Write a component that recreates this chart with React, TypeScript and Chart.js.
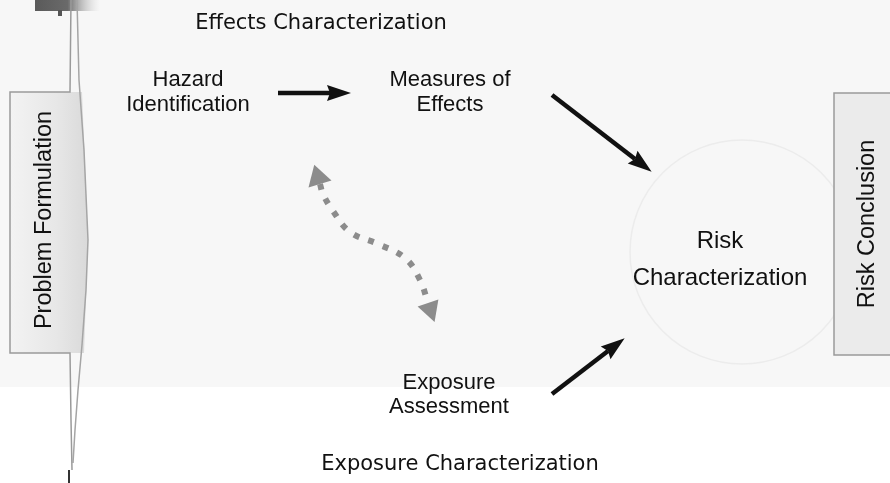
import React, { useEffect, useRef } from "react";
import { Chart, registerables } from "chart.js";

Chart.register(...registerables);

const W = 890;
const H = 483;

// ---- diagram data (diagram units = pixels of the 890x483 sheet) ----
const nodeLines = [
  ["Hazard", "Identification"],
  ["Measures of", "Effects"],
  ["Risk", "Characterization"],
  ["Exposure", "Assessment"],
];
const nodeX = [188, 450, 720, 449];
const nodeY = [80, 80, 241, 383];
const nodeGap = [25, 25, 37, 24];
const nodeSize = [22, 22, 24, 22];

const headerText = ["Effects Characterization", "Exposure Characterization"];
const headerX = [321, 460];
const headerY = [24, 465];

const sideText = ["Problem Formulation", "Risk Conclusion"];
const sideX = [45, 868];
const sideY = [220, 224];

// solid arrows: [startX, endX], [startY, endY]
const arrowX = [
  [278, 330],
  [552, 635],
  [552, 608],
];
const arrowY = [
  [93, 93],
  [95, 159],
  [394, 351],
];

// dotted two-headed curve
const curveX = [320, 323, 333, 350, 378, 405, 420, 428];
const curveY = [184, 194, 211, 232, 244, 258, 280, 303];

// left panel outline pieces
const leftBoxX = [71, 70, 10, 10, 70, 71, 72];
const leftBoxY = [0, 92, 92, 353, 353, 420, 470];
const leftEdgeX = [77, 79, 84, 88, 86, 82, 78, 75, 73];
const leftEdgeY = [0, 80, 150, 240, 290, 345, 390, 430, 463];
const leftTickX = [69, 69];
const leftTickY = [470, 483];

// right panel box
const rightBoxX = [890, 834, 834, 890];
const rightBoxY = [93, 93, 355, 355];

const toPts = (xs: number[], ys: number[]) => xs.map((x, i) => ({ x, y: ys[i] }));

export default function App() {
  const ref = useRef<HTMLCanvasElement | null>(null);

  useEffect(() => {
    const canvas = ref.current;
    if (!canvas) return;

    const diagram = {
      id: "diagram",
      beforeDatasetsDraw(chart: any) {
        const { ctx } = chart;
        const sx = chart.scales.x;
        const sy = chart.scales.y;
        const px = (v: number) => sx.getPixelForValue(v);
        const py = (v: number) => sy.getPixelForValue(v);
        ctx.save();
        ctx.fillStyle = "#ffffff";
        ctx.fillRect(0, 0, W, H);
        // light scan wash
        ctx.fillStyle = "#f7f7f7";
        ctx.fillRect(px(0), py(0), px(890) - px(0), py(387) - py(0));
        // faint ghost circle
        ctx.strokeStyle = "#ececec";
        ctx.lineWidth = 1.5;
        ctx.beginPath();
        ctx.arc(px(742), py(252), 112, 0, Math.PI * 2);
        ctx.stroke();
        // left panel fill
        const g = ctx.createLinearGradient(px(10), 0, px(88), 0);
        g.addColorStop(0, "#f3f3f3");
        g.addColorStop(0.6, "#e7e7e7");
        g.addColorStop(1, "#d9d9d9");
        ctx.fillStyle = g;
        ctx.beginPath();
        ctx.moveTo(px(10), py(92));
        ctx.lineTo(px(82), py(92));
        ctx.lineTo(px(88), py(240));
        ctx.lineTo(px(84), py(353));
        ctx.lineTo(px(10), py(353));
        ctx.closePath();
        ctx.fill();
        // right panel fill
        ctx.fillStyle = "#ebebeb";
        ctx.fillRect(px(834), py(93), px(890) - px(834), py(355) - py(93));
        // dark blob at top-left
        const g2 = ctx.createLinearGradient(px(35), 0, px(100), 0);
        g2.addColorStop(0, "#5a5a5a");
        g2.addColorStop(0.5, "#6a6a6a");
        g2.addColorStop(1, "rgba(200,200,200,0)");
        ctx.fillStyle = g2;
        ctx.fillRect(px(35), py(0), px(100) - px(35), py(11) - py(0));
        ctx.fillStyle = "#555";
        ctx.fillRect(px(58), py(10), 4, 6);
        ctx.restore();
      },
      afterDatasetsDraw(chart: any) {
        const { ctx } = chart;
        const sx = chart.scales.x;
        const sy = chart.scales.y;
        const px = (v: number) => sx.getPixelForValue(v);
        const py = (v: number) => sy.getPixelForValue(v);

        const head = (
          fromX: number, fromY: number, endX: number, endY: number,
          len: number, half: number, notch: number, color: string
        ) => {
          const ax = px(fromX), ay = py(fromY), bx = px(endX), by = py(endY);
          const dx = bx - ax, dy = by - ay;
          const d = Math.hypot(dx, dy) || 1;
          const ux = dx / d, uy = dy / d;
          const nx = -uy, ny = ux;
          const tipX = bx + ux * len, tipY = by + uy * len;
          ctx.fillStyle = color;
          ctx.beginPath();
          ctx.moveTo(tipX, tipY);
          ctx.lineTo(bx - ux * notch + nx * half, by - uy * notch + ny * half);
          ctx.lineTo(bx, by);
          ctx.lineTo(bx - ux * notch - nx * half, by - uy * notch - ny * half);
          ctx.closePath();
          ctx.fill();
        };

        ctx.save();
        arrowX.forEach((xs, i) => {
          const ys = arrowY[i];
          head(xs[0], ys[0], xs[1], ys[1], 21, 8, 3, "#111111");
        });
        const n = curveX.length;
        head(curveX[1], curveY[1], curveX[0], curveY[0], 20, 12, 0, "#8c8c8c");
        head(curveX[n - 2], curveY[n - 2], curveX[n - 1], curveY[n - 1], 20, 11, 0, "#8c8c8c");

        ctx.fillStyle = "#111111";
        ctx.textAlign = "center";
        ctx.textBaseline = "middle";
        nodeLines.forEach((lines, i) => {
          ctx.font = `${nodeSize[i]}px 'Liberation Sans', Arial, sans-serif`;
          lines.forEach((t, j) => {
            ctx.fillText(t, px(nodeX[i]), py(nodeY[i] + j * nodeGap[i]));
          });
        });
        ctx.font = "21px 'DejaVu Sans', Verdana, sans-serif";
        headerText.forEach((t, i) => ctx.fillText(t, px(headerX[i]), py(headerY[i])));
        ctx.font = "23.5px 'Liberation Sans', Arial, sans-serif";
        sideText.forEach((t, i) => {
          ctx.save();
          ctx.translate(px(sideX[i]), py(sideY[i]));
          ctx.rotate(-Math.PI / 2);
          ctx.fillText(t, 0, 0);
          ctx.restore();
        });
        ctx.restore();
      },
    };

    const lineDs = (xs: number[], ys: number[], color: string, width: number, extra: any = {}) => ({
      data: toPts(xs, ys),
      showLine: true,
      borderColor: color,
      backgroundColor: color,
      borderWidth: width,
      pointRadius: 0,
      fill: false,
      tension: 0,
      ...extra,
    });

    const chart = new Chart(canvas, {
      type: "scatter",
      data: {
        datasets: [
          lineDs(leftBoxX, leftBoxY, "#9a9a9a", 1.5),
          lineDs(leftEdgeX, leftEdgeY, "#a5a5a5", 1.5),
          lineDs(leftTickX, leftTickY, "#333333", 2),
          lineDs(rightBoxX, rightBoxY, "#9a9a9a", 1.5),
          ...arrowX.map((xs, i) => lineDs(xs, arrowY[i], "#111111", 4.5)),
          lineDs(curveX, curveY, "#8c8c8c", 6, {
            tension: 0.4,
            borderDash: [6, 9.5],
            borderCapStyle: "butt",
          }),
        ],
      },
      options: {
        responsive: false,
        animation: false,
        layout: { padding: 0 },
        plugins: { legend: { display: false }, tooltip: { enabled: false } },
        scales: {
          x: { type: "linear", min: 0, max: W, display: false },
          y: { type: "linear", min: 0, max: H, reverse: true, display: false },
        },
      },
      plugins: [diagram],
    });
    return () => chart.destroy();
  }, []);

  return (
    <canvas
      ref={ref}
      width={W}
      height={H}
      style={{ position: "fixed", left: 0, top: 0, width: W, height: H, display: "block" }}
    />
  );
}
